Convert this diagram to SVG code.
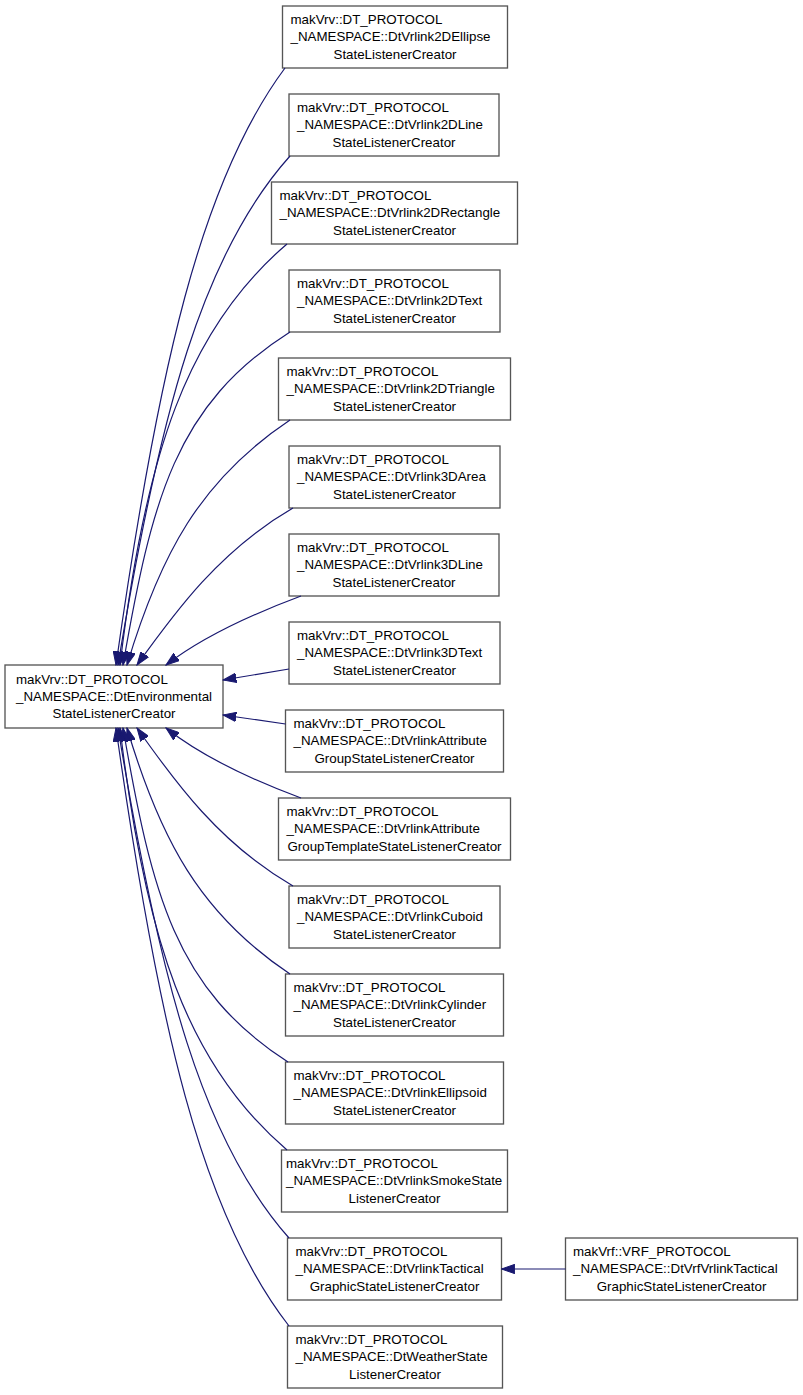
<svg xmlns="http://www.w3.org/2000/svg" width="803" height="1395" viewBox="0 0 803 1395">
<style>
.bg{fill:#ffffff}
.node rect{fill:#ffffff;stroke:#555555;stroke-width:1.33}
.node text{font-family:"Liberation Sans",Arial,Helvetica,sans-serif;font-size:13.33px;fill:#000000}
.c{text-anchor:middle}
.edges path{fill:none;stroke:#191970;stroke-width:1.2;marker-end:url(#ah)}
</style>
<defs>
<marker id="ah" markerUnits="userSpaceOnUse" viewBox="0 0 14 10" refX="13.3" refY="5" markerWidth="14" markerHeight="10" orient="auto">
<path d="M0,0.33 L13.3,5 L0,9.67 Z" fill="#191970" stroke="#191970" stroke-width="1"/>
</marker>
</defs>
<rect class="bg" x="0" y="0" width="803" height="1395"/>

<g id="n0" class="node"><rect x="5" y="665" width="218" height="63"/>
<text x="16" y="684">makVrv::DT_PROTOCOL</text><text x="16" y="701">_NAMESPACE::DtEnvironmental</text><text class="c" x="114" y="718">StateListenerCreator</text></g>

<g id="n1" class="node"><rect x="282.5" y="6" width="225" height="62"/>
<text x="290.5" y="23.5">makVrv::DT_PROTOCOL</text><text x="290.5" y="41">_NAMESPACE::DtVrlink2DEllipse</text><text class="c" x="395" y="58.5">StateListenerCreator</text></g>

<g id="n2" class="node"><rect x="289" y="94" width="210" height="62"/>
<text x="297" y="111.5">makVrv::DT_PROTOCOL</text><text x="297" y="129">_NAMESPACE::DtVrlink2DLine</text><text class="c" x="394" y="146.5">StateListenerCreator</text></g>

<g id="n3" class="node"><rect x="271.5" y="182" width="246" height="62"/>
<text x="279.5" y="199.5">makVrv::DT_PROTOCOL</text><text x="279.5" y="217">_NAMESPACE::DtVrlink2DRectangle</text><text class="c" x="394.5" y="234.5">StateListenerCreator</text></g>

<g id="n4" class="node"><rect x="289" y="270" width="211" height="62"/>
<text x="297" y="287.5">makVrv::DT_PROTOCOL</text><text x="297" y="305">_NAMESPACE::DtVrlink2DText</text><text class="c" x="394.5" y="322.5">StateListenerCreator</text></g>

<g id="n5" class="node"><rect x="278.5" y="358" width="232" height="62"/>
<text x="286.5" y="375.5">makVrv::DT_PROTOCOL</text><text x="286.5" y="393">_NAMESPACE::DtVrlink2DTriangle</text><text class="c" x="394.5" y="410.5">StateListenerCreator</text></g>

<g id="n6" class="node"><rect x="289" y="446" width="211" height="62"/>
<text x="297" y="463.5">makVrv::DT_PROTOCOL</text><text x="297" y="481">_NAMESPACE::DtVrlink3DArea</text><text class="c" x="394.5" y="498.5">StateListenerCreator</text></g>

<g id="n7" class="node"><rect x="289" y="534" width="210" height="62"/>
<text x="297" y="551.5">makVrv::DT_PROTOCOL</text><text x="297" y="569">_NAMESPACE::DtVrlink3DLine</text><text class="c" x="394" y="586.5">StateListenerCreator</text></g>

<g id="n8" class="node"><rect x="289" y="622" width="211" height="62"/>
<text x="297" y="639.5">makVrv::DT_PROTOCOL</text><text x="297" y="657">_NAMESPACE::DtVrlink3DText</text><text class="c" x="394.5" y="674.5">StateListenerCreator</text></g>

<g id="n9" class="node"><rect x="285.5" y="710" width="218" height="62"/>
<text x="293.5" y="727.5">makVrv::DT_PROTOCOL</text><text x="293.5" y="745">_NAMESPACE::DtVrlinkAttribute</text><text class="c" x="394.5" y="762.5">GroupStateListenerCreator</text></g>

<g id="n10" class="node"><rect x="278.5" y="798" width="232" height="62"/>
<text x="286.5" y="815.5">makVrv::DT_PROTOCOL</text><text x="286.5" y="833">_NAMESPACE::DtVrlinkAttribute</text><text class="c" x="394.5" y="850.5">GroupTemplateStateListenerCreator</text></g>

<g id="n11" class="node"><rect x="289" y="886" width="211" height="62"/>
<text x="297" y="903.5">makVrv::DT_PROTOCOL</text><text x="297" y="921">_NAMESPACE::DtVrlinkCuboid</text><text class="c" x="394.5" y="938.5">StateListenerCreator</text></g>

<g id="n12" class="node"><rect x="285.5" y="974" width="218" height="62"/>
<text x="293.5" y="991.5">makVrv::DT_PROTOCOL</text><text x="293.5" y="1009">_NAMESPACE::DtVrlinkCylinder</text><text class="c" x="394.5" y="1026.5">StateListenerCreator</text></g>

<g id="n13" class="node"><rect x="285.5" y="1062" width="218" height="62"/>
<text x="293.5" y="1079.5">makVrv::DT_PROTOCOL</text><text x="293.5" y="1097">_NAMESPACE::DtVrlinkEllipsoid</text><text class="c" x="394.5" y="1114.5">StateListenerCreator</text></g>

<g id="n14" class="node"><rect x="281.5" y="1150" width="226" height="62"/>
<text x="286" y="1167.5">makVrv::DT_PROTOCOL</text><text x="286" y="1185">_NAMESPACE::DtVrlinkSmokeState</text><text class="c" x="394.5" y="1202.5">ListenerCreator</text></g>

<g id="n15" class="node"><rect x="287.5" y="1238" width="214" height="62"/>
<text x="295.5" y="1255.5">makVrv::DT_PROTOCOL</text><text x="295.5" y="1273">_NAMESPACE::DtVrlinkTactical</text><text class="c" x="394.5" y="1290.5">GraphicStateListenerCreator</text></g>

<g id="n16" class="node"><rect x="287.5" y="1326" width="215" height="62"/>
<text x="295.5" y="1343.5">makVrv::DT_PROTOCOL</text><text x="295.5" y="1361">_NAMESPACE::DtWeatherState</text><text class="c" x="395" y="1378.5">ListenerCreator</text></g>

<g id="n17" class="node"><rect x="565.5" y="1238" width="232" height="62"/>
<text x="573" y="1255.5">makVrf::VRF_PROTOCOL</text><text x="573" y="1273">_NAMESPACE::DtVrfVrlinkTactical</text><text class="c" x="681.5" y="1290.5">GraphicStateListenerCreator</text></g>

<g id="edges" class="edges">
<path d="M285,68 C201,181 158,368 116,665"/>
<path d="M290,156 C203,253 160,410 118,665"/>
<path d="M287,244 C187,329 145,455 120,665"/>
<path d="M290,332 C175,405 152,499 123,665"/>
<path d="M290,420 C200,480 160,555 127,665"/>
<path d="M293,508 C220,550 175,612 137,665"/>
<path d="M301,596 C258,612 205,635 166,665"/>
<path d="M289,669 L223,680"/>
<path d="M285.5,724 L223,715"/>
<path d="M301,798 C258,782 205,759 166,728"/>
<path d="M293,886 C220,844 175,782 137,728"/>
<path d="M290,974 C200,914 160,839 127,728"/>
<path d="M288,1062 C175,989 152,895 123,728"/>
<path d="M287,1150 C187,1065 145,939 120,728"/>
<path d="M289,1238 C203,1141 160,984 118,728"/>
<path d="M289,1326 C201,1213 158,1026 116,728"/>
<path d="M565.5,1269 L501.5,1269"/>
</g>
</svg>
